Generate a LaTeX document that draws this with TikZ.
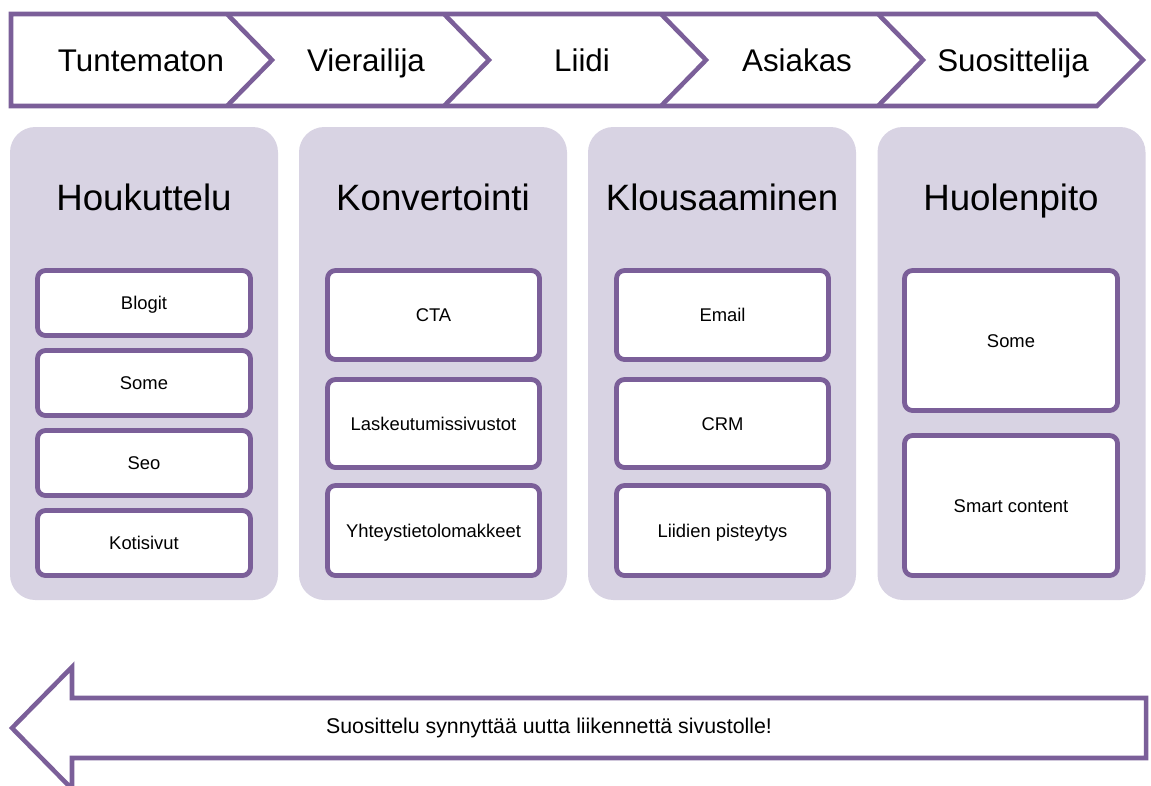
\documentclass[tikz,border=0pt]{standalone}
\usepackage{fontspec}
\setmainfont{Liberation Sans}
\definecolor{vio}{RGB}{123,95,153}
\definecolor{lav}{RGB}{216,211,227}
\begin{document}
\begin{tikzpicture}[x=0.75pt,y=-0.75pt,
  chev/.style={draw=vio,line width=3.4pt,line join=miter},
  chevtxt/.style={font=\fontsize{23.5}{26}\selectfont,inner sep=0pt,text height=16.8pt,text depth=0pt},
  panel/.style={fill=lav,draw=none,rounded corners=19pt,inner sep=0pt},
  ptitle/.style={font=\fontsize{27.5}{30}\selectfont,inner sep=0pt,text height=19.7pt,text depth=0pt},
  itembox/.style={draw=vio,fill=white,line width=3.6pt,rounded corners=6pt,
    font=\fontsize{13.8}{16}\selectfont,inner sep=0pt,text height=9.9pt,text depth=0pt},
  back/.style={draw=vio,fill=white,line width=3.4pt,line join=miter},
  backtxt/.style={font=\fontsize{16}{19}\selectfont,inner sep=0pt,text height=11.5pt,text depth=0pt}]
\useasboundingbox (0,0) rectangle (1151,785);
% top chevrons
\draw[chev,fill=white] (11,14) -- (1097,14) -- (1143,60) -- (1097,106) -- (11,106) -- cycle;
\foreach \a in {227,444,661,878}
  \draw[chev] (\a,14) -- (\a+45,60) -- (\a,106);
\node[chevtxt] (c1) at (141,60.5) {Tuntematon};
\node[chevtxt] (c2) at (366,60.5) {Vierailija};
\node[chevtxt] (c3) at (582,60.5) {Liidi};
\node[chevtxt] (c4) at (797,60.5) {Asiakas};
\node[chevtxt] (c5) at (1013,60.5) {Suosittelija};
% panels
\node[panel,minimum width=268*0.75pt,minimum height=473*0.75pt] (p1) at (144,363.5) {};
\node[panel,minimum width=268*0.75pt,minimum height=473*0.75pt] (p2) at (433,363.5) {};
\node[panel,minimum width=268*0.75pt,minimum height=473*0.75pt] (p3) at (722,363.5) {};
\node[panel,minimum width=268*0.75pt,minimum height=473*0.75pt] (p4) at (1011.5,363.5) {};
\node[ptitle] (t1) at (144,197.5) {Houkuttelu};
\node[ptitle] (t2) at (433,197.5) {Konvertointi};
\node[ptitle] (t3) at (722,197.5) {Klousaaminen};
\node[ptitle] (t4) at (1011,197.5) {Huolenpito};
% panel 1 items
\node[itembox,minimum width=213*0.75pt,minimum height=65*0.75pt] (a1) at (144,303) {Blogit};
\node[itembox,minimum width=213*0.75pt,minimum height=65*0.75pt] (a2) at (144,383) {Some};
\node[itembox,minimum width=213*0.75pt,minimum height=65*0.75pt] (a3) at (144,463) {Seo};
\node[itembox,minimum width=213*0.75pt,minimum height=65*0.75pt] (a4) at (144,543) {Kotisivut};
% panel 2 items
\node[itembox,minimum width=212*0.75pt,minimum height=89*0.75pt] (b1) at (433.5,315) {CTA};
\node[itembox,minimum width=212*0.75pt,minimum height=88*0.75pt] (b2) at (433.5,423.5) {Laskeutumissivustot};
\node[itembox,minimum width=212*0.75pt,minimum height=90*0.75pt] (b3) at (433.5,530.5) {Yhteystietolomakkeet};
% panel 3 items
\node[itembox,minimum width=212*0.75pt,minimum height=89*0.75pt] (d1) at (722.5,315) {Email};
\node[itembox,minimum width=212*0.75pt,minimum height=88*0.75pt] (d2) at (722.5,423.5) {CRM};
\node[itembox,minimum width=212*0.75pt,minimum height=90*0.75pt] (d3) at (722.5,530.5) {Liidien pisteytys};
% panel 4 items
\node[itembox,minimum width=213*0.75pt,minimum height=140*0.75pt] (e1) at (1011,340.5) {Some};
\node[itembox,minimum width=213*0.75pt,minimum height=140*0.75pt] (e2) at (1011,505.5) {Smart content};
% bottom back arrow
\draw[back] (12,728) -- (72,667) -- (72,698) -- (1146,698) -- (1146,758) -- (72,758) -- (72,789) -- cycle;
\node[backtxt] (bt) at (549,726) {Suosittelu synnyttää uutta liikennettä sivustolle!};
\end{tikzpicture}
\end{document}
